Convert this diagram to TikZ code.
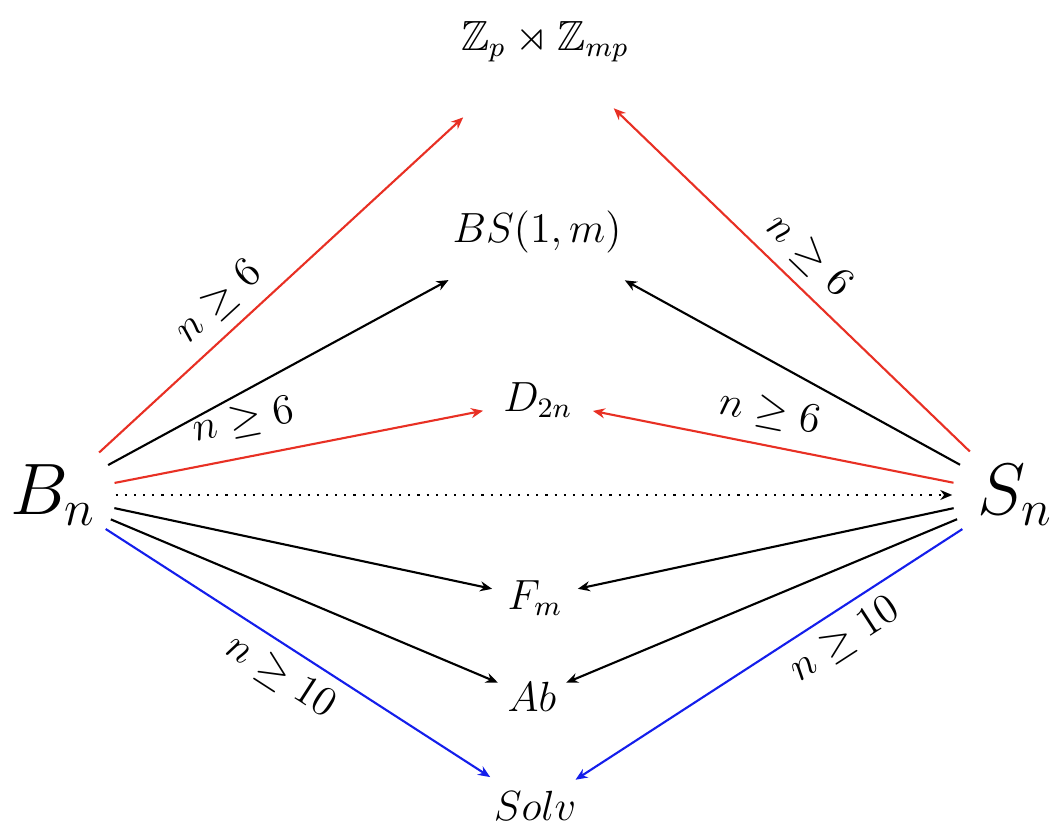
\documentclass[tikz,border=0pt]{standalone}
\usepackage{amsmath,amssymb}
\usetikzlibrary{arrows.meta,positioning}
\definecolor{arrred}{RGB}{232,48,36}
\definecolor{arrblue}{RGB}{20,30,235}

\begin{document}
\begin{tikzpicture}[
    x=0.01cm, y=-0.01cm,
    grp/.style={inner sep=0, font=\large},
    big/.style={circle, inner sep=0, minimum size=1.24cm, font=\huge},
    arrow/.style={-{Stealth[length=1.2mm, width=1mm]}, line width=0.6pt},
    lbl/.style={sloped, font=\large, text=black}
]
\useasboundingbox (0,0) rectangle (1053,836);
\node[big] (Bn) at (53,495) {$B_n$};
\node[big] (Sn) at (1015,495) {$S_n$};
\node[grp] (semi) at (545,42) {$\mathbb{Z}_p \rtimes \mathbb{Z}_{mp}$};
\node[grp] (bs) at (537,232) {$BS(1,m)$};
\node[grp] (dih) at (538,400) {$D_{2n}$};
\node[grp] (free) at (535,598) {$F_m$};
\node[grp] (ab) at (532,697) {$Ab$};
\node[grp] (solv) at (535,806) {$Solv$};
% left side
\draw[arrow, arrred, shorten >=0.8cm] (Bn) -- node[lbl, above, pos=0.33] {$n \geq 6$} (semi);
\draw[arrow, shorten >=0.55cm] (Bn) -- (bs);
\draw[arrow, arrred, shorten >=0.2cm] (Bn) -- node[lbl, above=2pt, pos=0.35] {$n \geq 6$} (dih);
\draw[arrow, dotted] (Bn) -- (Sn);
\draw[arrow, shorten >=0.15cm] (Bn) -- (free);
\draw[arrow, shorten >=0.1cm] (Bn) -- (ab);
\draw[arrow, arrblue, shorten >=0.25cm] (Bn) -- node[lbl, below, pos=0.47] {$n \geq 10$} (solv);
% right side
\draw[arrow, arrred, shorten >=0.65cm] (Sn) -- node[lbl, above, pos=0.45] {$n \geq 6$} (semi);
\draw[arrow, shorten >=0.55cm] (Sn) -- (bs);
\draw[arrow, arrred, shorten >=0.2cm] (Sn) -- node[lbl, above=1pt, pos=0.5] {$n \geq 6$} (dih);
\draw[arrow, shorten >=0.15cm] (Sn) -- (free);
\draw[arrow, shorten >=0.1cm] (Sn) -- (ab);
\draw[arrow, arrblue, shorten >=0.2cm] (Sn) -- node[lbl, below, pos=0.33] {$n \geq 10$} (solv);
\end{tikzpicture}
\end{document}
